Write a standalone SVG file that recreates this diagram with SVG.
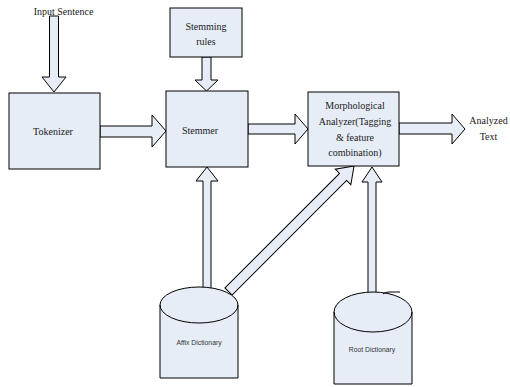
<svg xmlns="http://www.w3.org/2000/svg" width="510" height="387" viewBox="0 0 510 387">
<style>
.shape{fill:#E7EDF7;stroke:#000;stroke-width:1}
.arr{fill:#E7EDF7;stroke:#000;stroke-width:1;stroke-linejoin:miter}
.t{font-family:"Liberation Serif","Times New Roman",serif;font-size:10px;fill:#1a1a1a;text-anchor:middle}
.s{font-family:"Liberation Sans",Arial,sans-serif;font-size:6.8px;fill:#333;text-anchor:middle}
</style>
<rect width="510" height="387" fill="#fff"/>
<g id="connectors">
<polygon class="arr" points="49.5,16 58.5,16 58.5,77 66,77 54,92 42,77 49.5,77"/>
<polygon class="arr" points="202,57 211,57 211,80 218,80 206.5,91 195,80 202,80"/>
<polygon class="arr" points="100,126 152,126 152,115 166,131 152,147 152,137 100,137"/>
<polygon class="arr" points="248,124 295,124 295,114 308,129 295,144 295,134 248,134"/>
<polygon class="arr" points="399,123 452,123 452,114 465,129 452,144 452,134 399,134"/>
<polygon class="arr" points="203,290 203,181 196,181 207,167 218,181 211,181 211,290"/>
<polygon class="arr" points="368,295 368,182 362,182 372,167 382,182 376,182 376,295"/>
<polygon class="arr" transform="translate(228.5,291.5) rotate(-45)" points="0,-5 162,-5 162,-11 177.5,0 162,11 162,5 0,5"/>
</g>
<g id="input"><text class="t" x="63.5" y="15" font-size="10.5">Input Sentence</text></g>
<g id="tokenizer">
<rect class="shape" x="9" y="93" width="91" height="76"/>
<text class="t" x="53" y="135">Tokenizer</text>
</g>
<g id="stemming-rules">
<rect class="shape" x="170" y="8" width="72" height="49"/>
<text class="t" x="206" y="30">Stemming</text>
<text class="t" x="206" y="45">rules</text>
</g>
<g id="stemmer">
<rect class="shape" x="166" y="91" width="82" height="76"/>
<text class="t" x="200" y="134">Stemmer</text>
</g>
<g id="morph">
<rect class="shape" x="308" y="92" width="91" height="74"/>
<text class="t" x="355" y="109">Morphological</text>
<text class="t" x="355" y="125">Analyzer(Tagging</text>
<text class="t" x="355" y="141">&amp; feature</text>
<text class="t" x="355" y="156">combination)</text>
</g>
<g id="output">
<text class="t" x="488.5" y="124">Analyzed</text>
<text class="t" x="488.5" y="140">Text</text>
</g>
<g id="affix">
<path class="shape" d="M160,305 A39,18 0 0,1 238,305 L238,378 L160,378 Z"/>
<path fill="none" stroke="#000" d="M160,305 A39,18 0 0,0 238,305"/>
<text class="s" x="199" y="345">Affix Dictionary</text>
</g>
<g id="root">
<path class="shape" d="M334,312 A39,20 0 0,1 412,312 L412,384 L334,384 Z"/>
<path fill="none" stroke="#000" d="M334,312 A39,20 0 0,0 412,312"/>
<path fill="none" stroke="#000" d="M383,294 Q385,292 389,292 L400,292"/>
<text class="s" x="372" y="351.5">Root Dictionary</text>
</g>
</svg>
